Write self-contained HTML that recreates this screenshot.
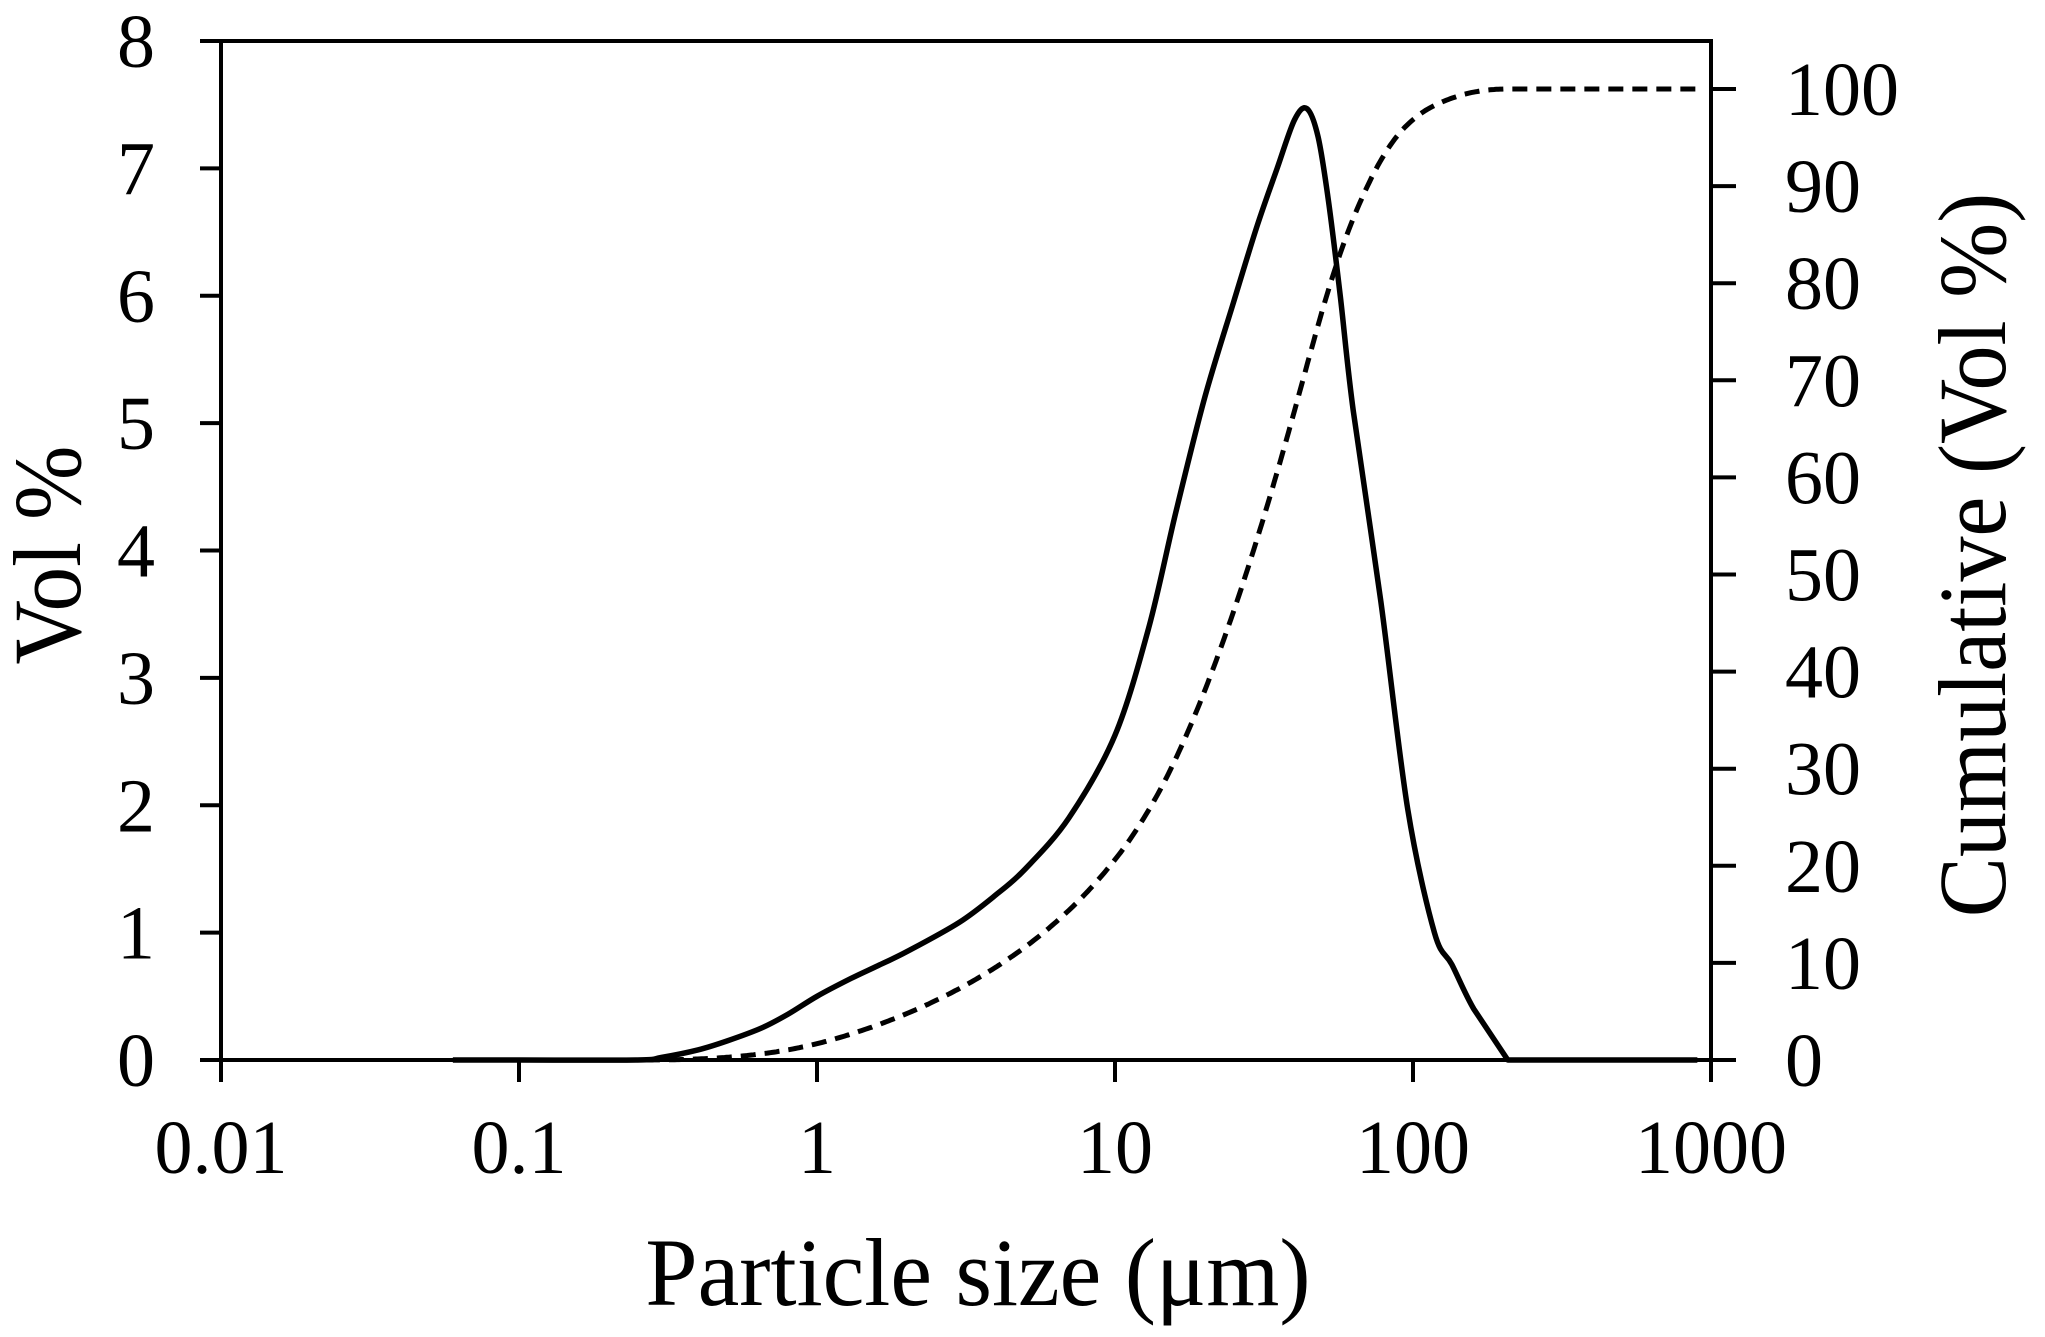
<!DOCTYPE html>
<html><head><meta charset="utf-8"><style>
html,body{margin:0;padding:0;background:#fff;}
svg{display:block}
text{font-family:"Liberation Serif",serif;fill:#000}
</style></head><body>
<svg id="s" width="2045" height="1337" viewBox="0 0 2045 1337" xmlns="http://www.w3.org/2000/svg">
<g stroke="#000" stroke-width="4" fill="none">
<rect x="221" y="41" width="1490" height="1019"/>
</g>
<g id="ticks" stroke="#000" stroke-width="4"></g>
<g id="labels" font-size="76"></g>
<text transform="translate(978,1305) scale(1.02,1.05)" font-size="92" text-anchor="middle">Particle size (μm)</text>
<text transform="translate(80,555) rotate(-90) scale(0.97,1.05)" font-size="92" text-anchor="middle">Vol %</text>
<text transform="translate(2005,555) rotate(-90) scale(0.98,1.05)" font-size="92" text-anchor="middle">Cumulative (Vol %)</text>
<path id="solid" fill="none" stroke="#000" stroke-width="5.5" stroke-linejoin="round"/>
<path id="dash" fill="none" stroke="#000" stroke-width="5" stroke-dasharray="15,9"/>
</svg>
<script>
var L=221,R=1711,T=41,B=1060,D=298;
function px(x){return L+(Math.log10(x)+2)*D;}
function py(v){return B-v*(B-T)/8;}
function pyc(v){return B-v*(B-89)/100;}
var NS="http://www.w3.org/2000/svg";
var tk=document.getElementById('ticks'),lb=document.getElementById('labels');
function line(x1,y1,x2,y2){var e=document.createElementNS(NS,'line');e.setAttribute('x1',x1);e.setAttribute('y1',y1);e.setAttribute('x2',x2);e.setAttribute('y2',y2);tk.appendChild(e);}
function txt(x,y,s,a){var e=document.createElementNS(NS,'text');e.setAttribute('x',x);e.setAttribute('y',y);e.setAttribute('text-anchor',a);e.textContent=s;lb.appendChild(e);}
for(var i=0;i<=8;i++){var y=py(i);line(200,y,L,y);txt(155,y+26,String(i),'end');}
for(var i=0;i<=10;i++){var y=pyc(i*10);line(R,y,1736,y);txt(1785,y+26,String(i*10),'start');}
var xl=['0.01','0.1','1','10','100','1000'];
for(var i=0;i<6;i++){var x=L+i*D;line(x,B,x,B+22);txt(x,1173,xl[i],'middle');}
var pts=[[0.06,0],[0.1,0],[0.25,0],[0.3,0.02],[0.4,0.08],[0.5,0.15],[0.65,0.25],[0.8,0.36],[1,0.5],[1.3,0.64],[1.6,0.74],[2,0.85],[3,1.08],[4,1.3],[5,1.5],[7,1.9],[10,2.55],[13,3.4],[16,4.3],[20,5.2],[25,5.95],[30,6.55],[35,7.0],[40,7.38],[44,7.47],[48,7.25],[52,6.75],[57,6.0],[63,5.1],[78,3.6],[96,1.97],[118,1.0],[135,0.75],[160,0.4],[208,0],[900,0]];
function interp(lx){for(var i=0;i<pts.length-1;i++){var a=Math.log10(pts[i][0]),b=Math.log10(pts[i+1][0]);if(lx>=a&&lx<=b){var t=(lx-a)/(b-a);return pts[i][1]+(pts[i+1][1]-pts[i][1])*t;}}return 0;}
var P=pts.map(function(p){return [px(p[0]),py(p[1])];});
var d='M'+P[0][0]+','+P[0][1];
for(var i=0;i<P.length-1;i++){var p0=P[Math.max(0,i-1)],p1=P[i],p2=P[i+1],p3=P[Math.min(P.length-1,i+2)];
var k=0.16;if(pts[i+1][0]==208||pts[i][0]==208){k=0;}
d+=' C'+(p1[0]+(p2[0]-p0[0])*k)+','+(p1[1]+(p2[1]-p0[1])*k)+' '+(p2[0]-(p3[0]-p1[0])*k)+','+(p2[1]-(p3[1]-p1[1])*k)+' '+p2[0]+','+p2[1];}
document.getElementById('solid').setAttribute('d',d);
var a=Math.log10(0.06),b=Math.log10(900),N=600,cum=[],s=0;
for(var i=0;i<=N;i++){var lx=a+(b-a)*i/N;s+=interp(lx);cum.push([lx,s]);}
var dd='';
for(var i=0;i<=N;i++){var x=L+(cum[i][0]+2)*D,y=pyc(cum[i][1]/s*100);dd+=(i?' L':'M')+x.toFixed(1)+','+y.toFixed(1);}
document.getElementById('dash').setAttribute('d',dd);
</script>
</body></html>
